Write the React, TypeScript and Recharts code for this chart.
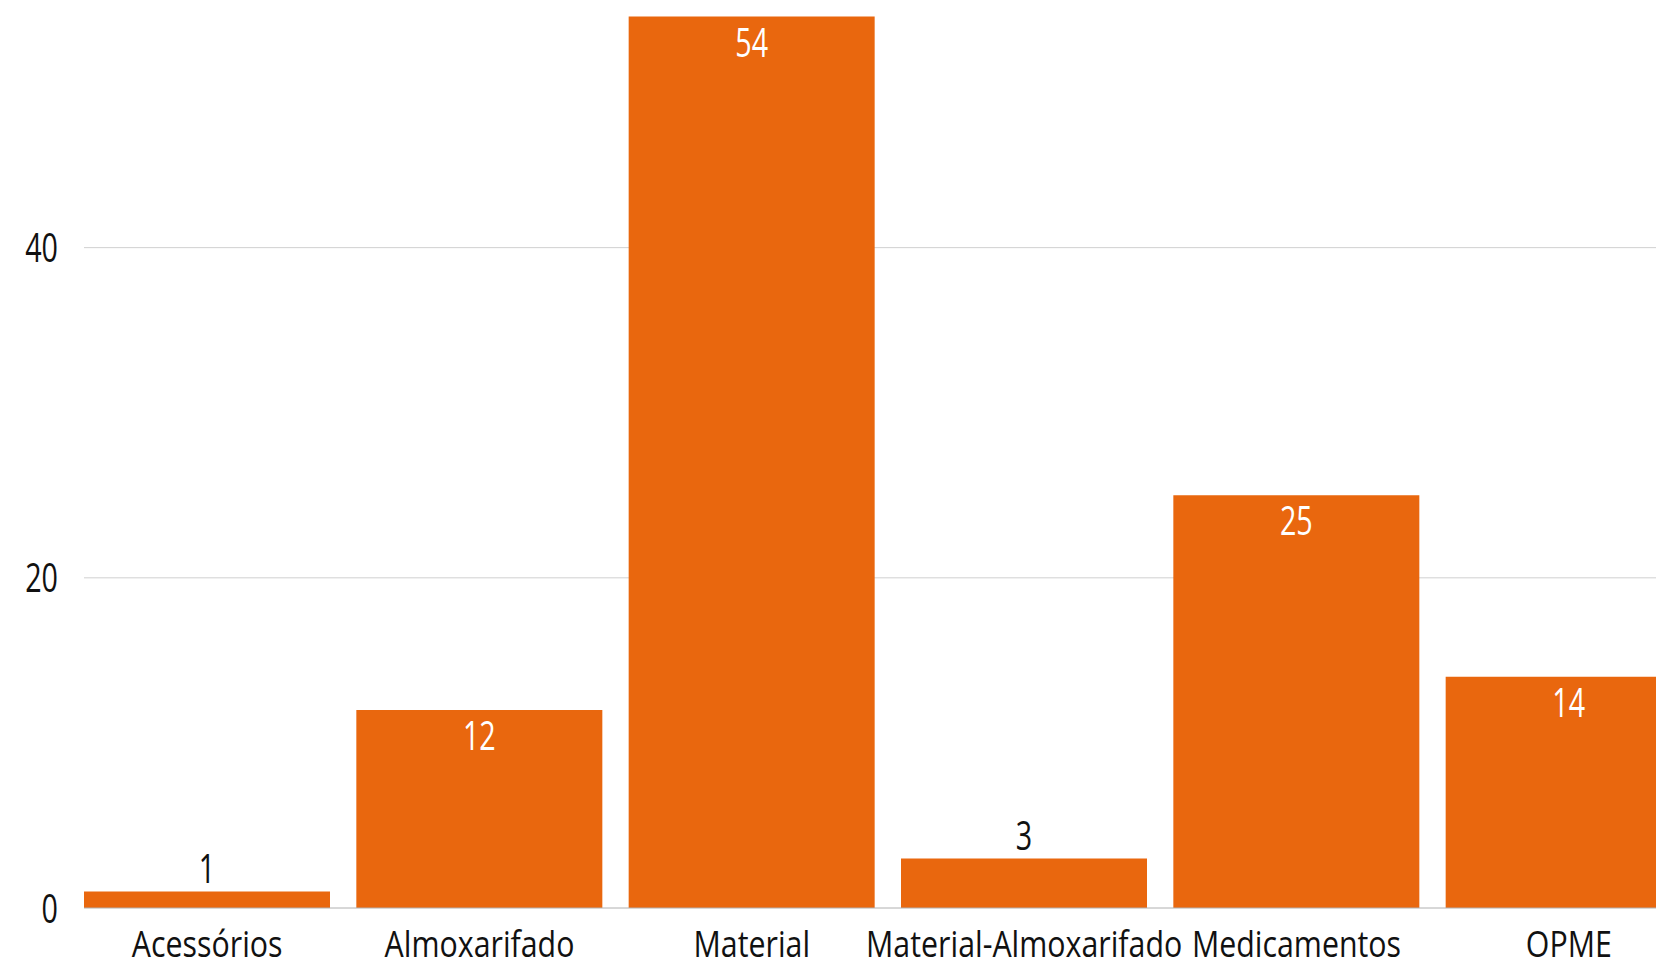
import React from "react";
import { BarChart, Bar, XAxis, YAxis, CartesianGrid, LabelList } from "recharts";

const categories = ["Acessórios", "Almoxarifado", "Material", "Material-Almoxarifado", "Medicamentos", "OPME"];
const counts = [1, 12, 54, 3, 25, 14];
const yTicks = [0, 20, 40];
const gridValues = [20, 40];

const data = categories.map((c, i) => ({ name: c, value: counts[i] }));

const FONT = "'Open Sans', 'Noto Sans', sans-serif";
const ORANGE = "#E9670E";
const TEXT = "#111111";

const ValueLabel = (props: any) => {
  const { x, y, width, height, value } = props;
  const cx = x + width / 2;
  const inside = height > 60;
  const ty = inside ? y + 11 : y - 8;
  return (
    <g transform={`translate(${cx},${ty}) scale(0.7,1)`}>
      <text
        x={0}
        y={0}
        dy={inside ? "0.71em" : 0}
        textAnchor="middle"
        fill={inside ? "#ffffff" : TEXT}
        fontSize={41}
        fontFamily={FONT}
      >
        {value}
      </text>
    </g>
  );
};

const XTick = (props: any) => {
  const { x, y, payload } = props;
  return (
    <g transform={`translate(${x},${y}) scale(0.82,1)`}>
      <text x={0} y={0} dy="0.71em" textAnchor="middle" fill={TEXT} fontSize={37} fontFamily={FONT}>
        {payload.value}
      </text>
    </g>
  );
};

const YTick = (props: any) => {
  const { x, y, payload } = props;
  return (
    <g transform={`translate(${x},${y}) scale(0.7,1)`}>
      <text x={0} y={0} dy="0.355em" textAnchor="end" fill={TEXT} fontSize={41} fontFamily={FONT}>
        {payload.value}
      </text>
    </g>
  );
};

export default function App() {
  return (
    <div style={{ position: "absolute", left: 0, top: 0, width: 1656, height: 964, overflow: "hidden", background: "#fff" }}>
      <BarChart
        width={1705}
        height={964}
        data={data}
        margin={{ top: 0, right: 0, left: 0, bottom: 0 }}
        barCategoryGap={13}
      >
        <CartesianGrid vertical={false} horizontalValues={gridValues} stroke="#d0d0d0" strokeWidth={1} />
        <XAxis
          dataKey="name"
          height={56}
          tickLine={false}
          tickSize={0}
          tickMargin={23}
          axisLine={{ stroke: "#b0b0b0" }}
          padding={{ left: -13, right: 0 }}
          interval={0}
          tick={<XTick />}
        />
        <YAxis
          width={84}
          domain={[0, 55]}
          ticks={yTicks}
          axisLine={false}
          tickLine={false}
          tickSize={0}
          tickMargin={26}
          tick={<YTick />}
        />
        <Bar dataKey="value" fill={ORANGE} isAnimationActive={false}>
          <LabelList dataKey="value" content={ValueLabel} />
        </Bar>
      </BarChart>
    </div>
  );
}
